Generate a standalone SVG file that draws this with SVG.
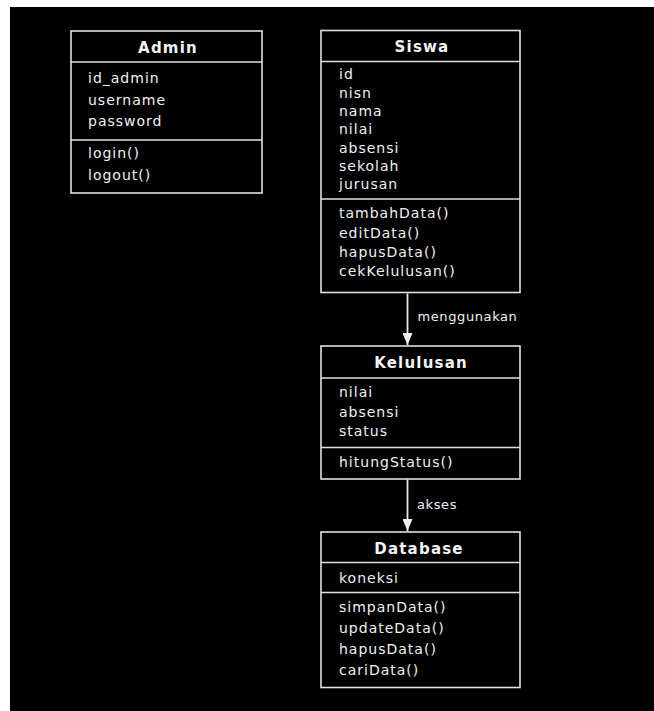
<svg xmlns="http://www.w3.org/2000/svg" width="654" height="711" viewBox="0 0 654 711">
<defs>
<style>
.box{fill:#000;stroke:#e0e0e0;stroke-width:1.6}
.div{stroke:#e0e0e0;stroke-width:1.6}
.t{font-family:"DejaVu Sans",sans-serif;font-weight:bold;font-size:15px;letter-spacing:1.2px;fill:#f4f4f4;text-anchor:middle}
.a{font-family:"DejaVu Sans",sans-serif;font-size:14px;letter-spacing:1px;fill:#f0f0f0}
.l{font-family:"DejaVu Sans",sans-serif;font-size:13px;letter-spacing:0.6px;fill:#f0f0f0}
.c{stroke:#e8e8e8;stroke-width:1.8;fill:none}
</style>
<marker id="arr" viewBox="0 0 12 10" markerWidth="12" markerHeight="10" refX="12" refY="5" orient="auto" markerUnits="userSpaceOnUse">
<path d="M0,0 L12,5 L0,10 Z" fill="#f0f0f0"/>
</marker>
</defs>
<rect x="0" y="0" width="654" height="711" fill="#fff"/>
<rect x="10" y="7" width="644" height="704" fill="#000"/>

<g id="admin">
<rect class="box" x="71" y="31" width="191" height="162"/>
<line class="div" x1="71" y1="62" x2="262" y2="62"/>
<line class="div" x1="71" y1="140" x2="262" y2="140"/>
<text class="t" x="168" y="53">Admin</text>
<text class="a" x="88" y="83">id_admin</text>
<text class="a" x="88" y="104.5">username</text>
<text class="a" x="88" y="126">password</text>
<text class="a" x="88" y="158">login()</text>
<text class="a" x="88" y="180">logout()</text>
</g>

<g id="siswa">
<rect class="box" x="321" y="30.5" width="199" height="262"/>
<line class="div" x1="321" y1="61.5" x2="520" y2="61.5"/>
<line class="div" x1="321" y1="199" x2="520" y2="199"/>
<text class="t" x="422" y="52">Siswa</text>
<text class="a" x="339" y="79.3">id</text>
<text class="a" x="339" y="97.6">nisn</text>
<text class="a" x="339" y="115.9">nama</text>
<text class="a" x="339" y="134.2">nilai</text>
<text class="a" x="339" y="152.5">absensi</text>
<text class="a" x="339" y="170.8">sekolah</text>
<text class="a" x="339" y="189.1">jurusan</text>
<text class="a" x="339" y="218.3">tambahData()</text>
<text class="a" x="339" y="237.5">editData()</text>
<text class="a" x="339" y="256.7">hapusData()</text>
<text class="a" x="339" y="275.9">cekKelulusan()</text>
</g>

<g id="kelulusan">
<rect class="box" x="321" y="346" width="199" height="133"/>
<line class="div" x1="321" y1="378" x2="520" y2="378"/>
<line class="div" x1="321" y1="447.5" x2="520" y2="447.5"/>
<text class="t" x="421" y="367.5">Kelulusan</text>
<text class="a" x="339" y="397.3">nilai</text>
<text class="a" x="339" y="416.7">absensi</text>
<text class="a" x="339" y="436">status</text>
<text class="a" x="339" y="467.3">hitungStatus()</text>
</g>

<g id="database">
<rect class="box" x="321" y="532" width="199" height="155.5"/>
<line class="div" x1="321" y1="562.5" x2="520" y2="562.5"/>
<line class="div" x1="321" y1="592.5" x2="520" y2="592.5"/>
<text class="t" x="419" y="553.5">Database</text>
<text class="a" x="339" y="582.5">koneksi</text>
<text class="a" x="339" y="611.7">simpanData()</text>
<text class="a" x="339" y="632.7">updateData()</text>
<text class="a" x="339" y="654">hapusData()</text>
<text class="a" x="339" y="675">cariData()</text>
</g>

<g id="connectors">
<line class="c" x1="407.5" y1="293.5" x2="407.5" y2="345" marker-end="url(#arr)"/>
<text class="l" x="417.5" y="320.7">menggunakan</text>
<line class="c" x1="407.5" y1="479.5" x2="407.5" y2="531" marker-end="url(#arr)"/>
<text class="l" x="417" y="508.7">akses</text>
</g>
</svg>
